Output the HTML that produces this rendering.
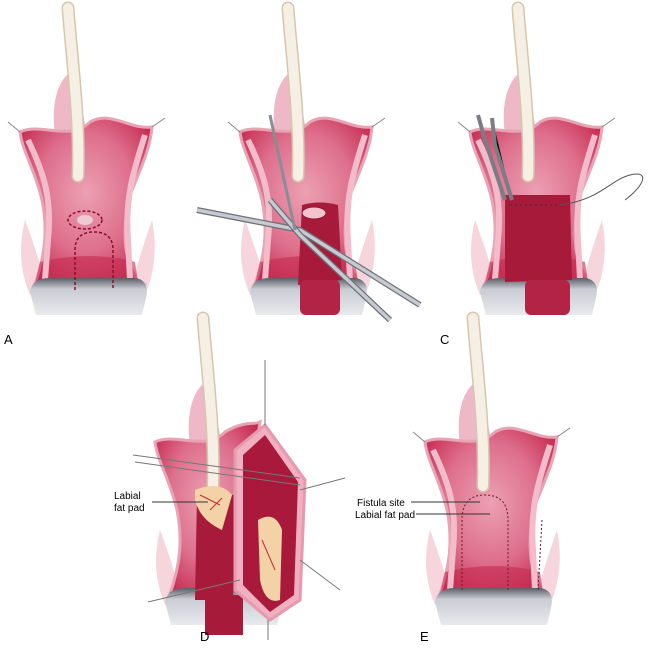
<!DOCTYPE html>
<html><head><meta charset="utf-8"><style>
html,body{margin:0;padding:0;background:#fff;}
svg{display:block;font-family:"Liberation Sans",sans-serif;}
</style></head><body>
<svg width="650" height="651" viewBox="0 0 650 651" xmlns="http://www.w3.org/2000/svg">
<defs>
<radialGradient id="rg" cx="0.5" cy="0.45" r="0.65">
<stop offset="0" stop-color="#eca0b3"/><stop offset="0.55" stop-color="#de6f8c"/><stop offset="1" stop-color="#c3244b"/>
</radialGradient>
<linearGradient id="gr" x1="0" y1="0" x2="0" y2="1">
<stop offset="0" stop-color="#5a5d66"/><stop offset="0.3" stop-color="#c9ccd2"/><stop offset="1" stop-color="#e9eaee"/>
</linearGradient>
<g id="base">
<path d="M55,135 C50,100 60,75 75,70 L85,125 Z" fill="#efb8c6"/>
<path d="M30,295 Q15,260 25,220 Q40,260 45,285 Z" fill="#f6d5dc"/>
<path d="M145,295 Q160,260 152,220 Q138,260 132,285 Z" fill="#f6d5dc"/>
<path d="M20,132 C40,122 70,142 90,122 C110,110 130,130 152,127 C150,150 140,170 128,200 C122,240 125,260 138,282 L35,284 C45,255 48,230 42,200 C35,170 22,150 20,132 Z" fill="url(#rg)" stroke="#e8a3b4" stroke-width="3"/>
<path d="M40,262 Q90,250 135,262 L138,282 L35,284 Z" fill="#c42a50" opacity="0.6"/>
<path d="M28,140 C45,175 52,200 48,240 L45,280" fill="none" stroke="#f2bccb" stroke-width="6"/>
<path d="M145,135 C132,175 125,200 128,240 L130,280" fill="none" stroke="#f2bccb" stroke-width="6"/>
<path d="M20,132 L8,122 M152,127 L165,118" stroke="#888" stroke-width="1"/>
<path d="M30,292 Q32,278 50,278 L135,278 Q150,280 146,298 L142,315 L36,315 Z" fill="url(#gr)"/>
<path d="M68,8 C72,60 80,120 78,176" fill="none" stroke="#d6c6ae" stroke-width="13" stroke-linecap="round"/>
<path d="M68,8 C72,60 80,120 78,176" fill="none" stroke="#f6efe4" stroke-width="10" stroke-linecap="round"/>
</g>
</defs>

<!-- A -->
<use href="#base"/>
<ellipse cx="85" cy="220" rx="17" ry="9" fill="none" stroke="#8a0f2a" stroke-width="1.5" stroke-dasharray="3,2"/>
<ellipse cx="85" cy="220" rx="8" ry="5" fill="#f0c9d3"/>
<path d="M75,290 L75,250 Q75,232 94,232 Q113,232 113,250 L113,290" fill="none" stroke="#8a0f2a" stroke-width="1.5" stroke-dasharray="3,2"/>
<text x="4" y="344" font-size="13">A</text>

<!-- B -->
<g transform="translate(220,0)"><use href="#base"/>
<path d="M82,205 Q100,200 118,205 L122,280 L78,285 Z" fill="#a81a3a"/>
<rect x="80" y="280" width="40" height="35" rx="6" fill="#b32345"/>
<ellipse cx="94" cy="213" rx="12" ry="6" fill="#f4c3cf" stroke="#8a1a33"/>
</g>
<path d="M197,210 L300,230 L420,305" fill="none" stroke="#6d7078" stroke-width="6"/>
<path d="M197,210 L300,230 L420,305" fill="none" stroke="#c7cad0" stroke-width="3.5"/>
<path d="M270,200 L300,235 L390,320" fill="none" stroke="#6d7078" stroke-width="6"/>
<path d="M270,200 L300,235 L390,320" fill="none" stroke="#c7cad0" stroke-width="3.5"/>
<path d="M270,115 L295,230" stroke="#8a8d94" stroke-width="3"/>
<text x="200" y="344" font-size="13">B</text>

<!-- C -->
<g transform="translate(450,0)"><use href="#base"/>
<path d="M55,195 L120,195 L122,280 L55,282 Z" fill="#a81a3a"/>
<rect x="75" y="280" width="45" height="35" rx="6" fill="#b32345"/>
<path d="M60,205 L115,205" stroke="#333" stroke-width="1" stroke-dasharray="2,3"/>
</g>
<path d="M505,200 L485,140 L478,115" stroke="#7a7d84" stroke-width="4"/>
<path d="M512,200 L495,145 L492,118" stroke="#7a7d84" stroke-width="4"/>
<path d="M560,205 C600,200 610,180 630,175 C650,170 645,185 625,200" fill="none" stroke="#555" stroke-width="1"/>
<text x="440" y="344" font-size="13">C</text>

<!-- D -->
<g transform="translate(135,310)">
<path d="M55,135 C50,100 60,75 75,70 L85,125 Z" fill="#efb8c6"/>
<path d="M30,295 Q15,260 25,220 Q40,260 45,285 Z" fill="#f6d5dc"/>
<path d="M20,132 C40,122 70,142 90,122 C110,110 120,115 125,112 L100,285 L35,284 C45,255 48,230 42,200 C35,170 22,150 20,132 Z" fill="url(#rg)" stroke="#e8a3b4" stroke-width="3"/>
<path d="M30,292 Q32,278 50,278 L135,278 Q150,280 146,298 L142,315 L36,315 Z" fill="url(#gr)"/>
<path d="M62,185 L100,185 L98,290 L60,290 Z" fill="#a81a3a"/>
<rect x="70" y="285" width="38" height="40" fill="#a81a3a"/>
<path d="M68,8 C72,60 80,120 78,176" fill="none" stroke="#d6c6ae" stroke-width="13" stroke-linecap="round"/>
<path d="M68,8 C72,60 80,120 78,176" fill="none" stroke="#f6efe4" stroke-width="10" stroke-linecap="round"/>
</g>
<path d="M235,450 L265,425 L305,480 L300,600 L270,620 L235,590 Z" fill="#f0b0c0" stroke="#e59aae" stroke-width="3"/>
<path d="M243,455 L265,435 L298,482 L294,595 L270,612 L243,585 Z" fill="#a8193b"/>
<path d="M195,490 Q220,480 232,495 L222,530 Q200,520 195,500 Z" fill="#f3d2a8"/>
<path d="M258,520 Q275,510 282,530 L280,600 Q265,605 260,580 Z" fill="#f3d2a8"/>
<path d="M200,495 L220,505 M262,540 L275,570 M210,510 L222,498" stroke="#c42a3a" stroke-width="1"/>
<path d="M133,455 L300,478 M135,462 L300,485 M300,560 L340,590 M300,490 L345,478 M148,602 L240,580 M265,425 L265,360 M268,620 L268,640" stroke="#777" stroke-width="1"/>
<line x1="152" y1="502" x2="208" y2="502" stroke="#333" stroke-width="1"/>
<text x="114" y="499" font-size="10">Labial</text>
<text x="114" y="511" font-size="10">fat pad</text>
<text x="200" y="641" font-size="13">D</text>

<!-- E -->
<g transform="translate(405,310)"><use href="#base"/></g>
<path d="M462,590 L462,520 Q462,495 485,495 Q508,495 508,520 L508,590" fill="none" stroke="#5a2030" stroke-width="1" stroke-dasharray="2,2"/>
<path d="M542,520 L538,590" stroke="#5a2030" stroke-width="1" stroke-dasharray="2,2"/>
<line x1="411" y1="502" x2="480" y2="502" stroke="#333" stroke-width="1"/>
<line x1="416" y1="514" x2="490" y2="514" stroke="#333" stroke-width="1"/>
<text x="357" y="506" font-size="10">Fistula site</text>
<text x="355" y="518" font-size="10">Labial fat pad</text>
<text x="420" y="641" font-size="13">E</text>
</svg>
</body></html>
